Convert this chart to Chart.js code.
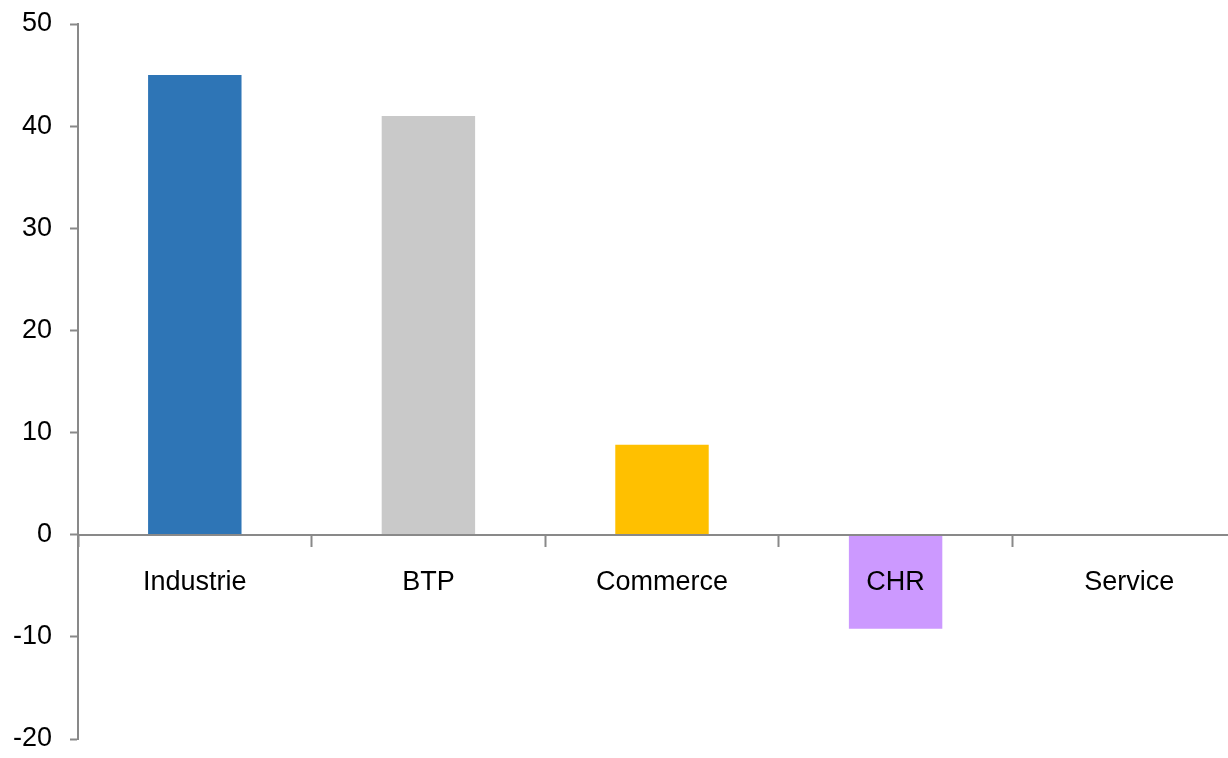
<!DOCTYPE html>
<html>
<head>
<meta charset="utf-8">
<script src="https://cdn.jsdelivr.net/npm/chart.js@4.4.1/dist/chart.umd.min.js"></script>
<style>
  html, body { margin: 0; padding: 0; background: #fff; overflow: hidden; }
  #wrap { position: relative; width: 1246px; height: 758px; }
</style>
</head>
<body>
<div id="wrap"><canvas id="grafico"></canvas></div>
<script>
// categorías y valores
const secteurs = ['Industrie', 'BTP', 'Commerce', 'CHR', 'Service'];
const valeurs = [45, 41, 8.8, -9.2, 0];
const couleurs = ['#2E75B6', '#C9C9C9', '#FFC000', '#CC99FF', '#A5A5A5'];
const yMin = -20, yMax = 50, yPas = 10;

const gris = '#898989';
const police = { family: '"Liberation Sans", Arial, sans-serif', size: 27 };

new Chart(document.getElementById('grafico'), {
  type: 'bar',
  data: {
    labels: secteurs,
    datasets: [{
      data: valeurs,
      backgroundColor: couleurs,
      barPercentage: 0.4,
      categoryPercentage: 1
    }]
  },
  options: {
    responsive: true,
    maintainAspectRatio: false,
    animation: false,
    layout: { padding: { top: 24, bottom: 19, left: 0, right: 0 } },
    plugins: {
      legend: { display: false },
      tooltip: { enabled: false }
    },
    scales: {
      x: {
        position: { y: 0 },
        offset: true,
        grid: { display: true, drawOnChartArea: false, offset: true, tickLength: 11, tickWidth: 2, tickColor: gris, color: gris, z: 1 },
        border: { display: true, color: gris, width: 2, z: 1 },
        ticks: { color: '#000', font: police, padding: 21, z: 1 }
      },
      y: {
        min: yMin,
        max: yMax,
        ticks: { stepSize: yPas, color: '#000', font: police, padding: 18 },
        grid: { display: true, drawOnChartArea: false, tickLength: 8, tickWidth: 2, tickColor: gris },
        border: { display: true, color: gris, width: 2 },
        afterFit: function(s) {
          // l'axe vertical commence à x = 78
          s.width = 78;
          s.paddingTop = 0;
          s.paddingBottom = 0;
        }
      }
    }
  }
});
</script>
</body>
</html>
